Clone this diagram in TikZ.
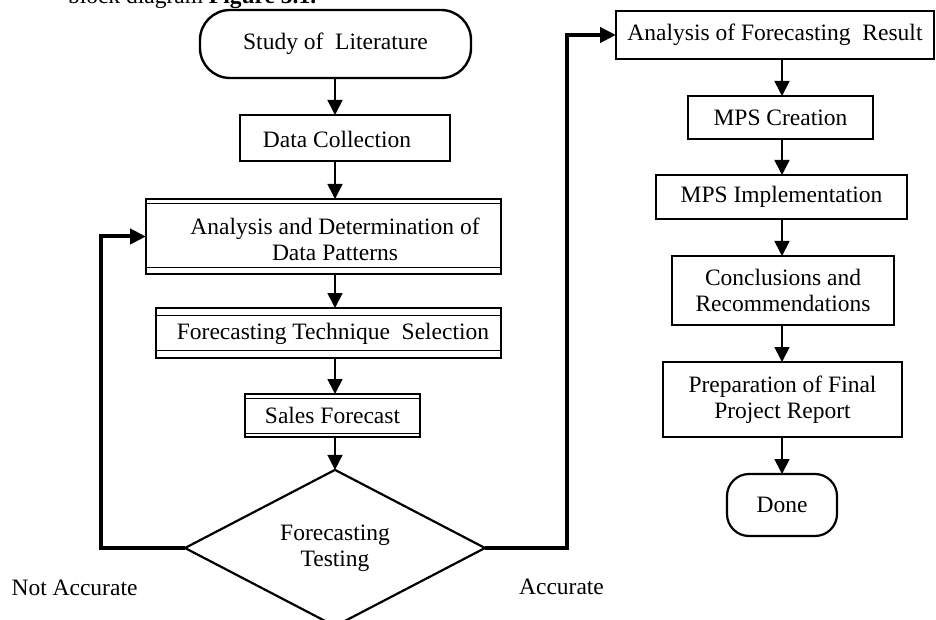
\documentclass[tikz,border=0pt]{standalone}
\usepackage{fontspec}
\setmainfont{Liberation Serif}
\usetikzlibrary{arrows.meta,shapes.geometric}
\begin{document}
\begin{tikzpicture}[x=1pt,y=-1pt,
  every node/.style={font=\fontsize{23.5}{26}\selectfont, inner sep=0pt, outer sep=0pt},
  box/.style={draw, line width=1.2pt, rectangle, align=center},
  term/.style={draw, line width=2.4pt, rectangle, align=center},
  dec/.style={draw, line width=2.2pt, diamond, align=center, minimum width=300pt, minimum height=150pt},
  txt/.style={align=center},
  arr/.style={line width=1.7pt, -{Triangle[width=15pt,length=15pt]}},
  fb/.style={line width=4pt, -{Triangle[width=15pt,length=16pt]}},
  inner/.style={line width=1pt}]
\useasboundingbox (0,0) rectangle (936,620);
\coordinate (cl) at (335,0);
\coordinate (cr) at (782,0);

% caption fragment (cut at the top)
\node[anchor=base west] (cap) at (68,4) {block diagram \textbf{Figure 3.1.}};

% left column
\node[term, rounded corners=30pt, minimum width=271pt, minimum height=68pt] (st) at (335.5,44) {Study of~ Literature};
\node[box, minimum width=210pt, minimum height=46pt] (dc) at (345,138) {};
\node[txt] (dct) at (337,139) {Data Collection};
\node[box, minimum width=355pt, minimum height=75pt] (an) at (323.5,236.5) {};
\node[txt] (ant) at (335,239) {Analysis and Determination of\\Data Patterns};
\draw[inner] ([yshift=-5pt]an.north west) -- ([yshift=-5pt]an.north east);
\draw[inner] ([yshift=7pt]an.south west) -- ([yshift=7pt]an.south east);
\node[box, minimum width=345pt, minimum height=50pt] (tc) at (328.5,333) {};
\node[txt] (tct) at (333,334) {Forecasting Technique~ Selection};
\draw[inner] ([yshift=-7pt]tc.north west) -- ([yshift=-7pt]tc.north east);
\draw[inner] ([yshift=8pt]tc.south west) -- ([yshift=8pt]tc.south east);
\node[box, minimum width=175pt, minimum height=43pt] (sf) at (332.5,415.5) {Sales Forecast};
\draw[inner] ([yshift=-4pt]sf.north west) -- ([yshift=-4pt]sf.north east);
\draw[inner] ([yshift=4pt]sf.south west) -- ([yshift=4pt]sf.south east);
\node[dec] (dia) at (335,548) {Forecasting\\Testing};
\node (na) at (74.5,588) {Not Accurate};
\node (ac) at (561.5,587) {Accurate};

% right column
\node[box, minimum width=318pt, minimum height=48pt] (res) at (775,35) {Analysis of Forecasting~ Result};
\node[box, minimum width=185pt, minimum height=43pt] (mc) at (780.5,117.5) {MPS Creation};
\node[box, minimum width=251pt, minimum height=44pt] (mi) at (781.5,197) {MPS Implementation};
\node[box, minimum width=222pt, minimum height=69pt] (cc) at (783,290.5) {Conclusions and\\Recommendations};
\node[box, minimum width=239pt, minimum height=75pt] (pr) at (782.5,399.5) {Preparation of Final\\Project Report};
\node[term, line width=2.2pt, rounded corners=22pt, minimum width=110pt, minimum height=62pt] (dn) at (782,505) {Done};

% connectors left
\draw[arr] (cl |- st.south) -- (cl |- dc.north);
\draw[arr] (cl |- dc.south) -- (cl |- an.north);
\draw[arr] (cl |- an.south) -- (cl |- tc.north);
\draw[arr] (cl |- tc.south) -- (cl |- sf.north);
\draw[arr] (cl |- sf.south) -- (dia.north);
% feedback loops
\draw[fb] (dia.west) -- ++(-84,0) |- (an.west);
\draw[fb] (dia.east) -- ++(82,0) |- (res.west);
% connectors right
\draw[arr] (cr |- res.south) -- (cr |- mc.north);
\draw[arr] (cr |- mc.south) -- (cr |- mi.north);
\draw[arr] (cr |- mi.south) -- (cr |- cc.north);
\draw[arr] (cr |- cc.south) -- (cr |- pr.north);
\draw[arr] (cr |- pr.south) -- (cr |- dn.north);
\end{tikzpicture}
\end{document}
